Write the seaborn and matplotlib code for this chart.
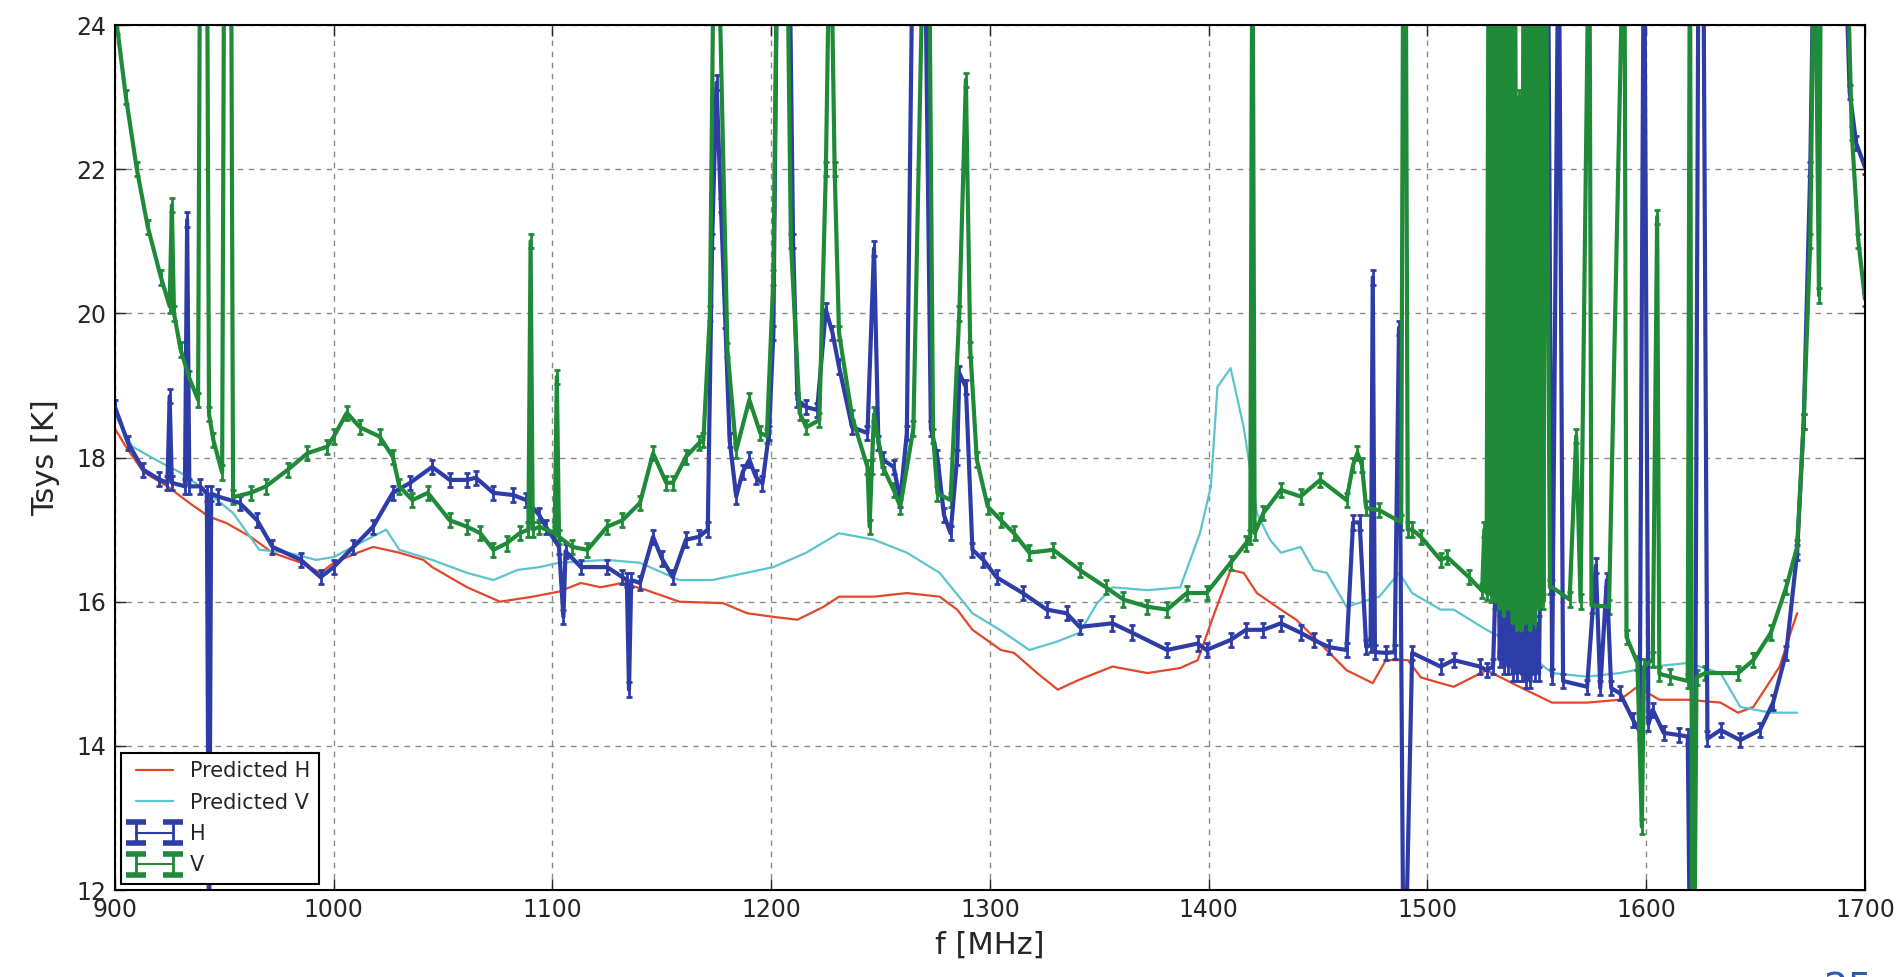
import matplotlib
matplotlib.use("Agg")
import matplotlib.pyplot as plt
import seaborn as sns
import numpy as np
import pandas as pd

# ---------------- data ----------------
PRED_H_F = [900, 905, 913, 924, 934, 943, 951, 962, 972, 985, 994, 1000, 1011, 1018, 1030,
            1041, 1045, 1061, 1076, 1091, 1103, 1113, 1122, 1132, 1143, 1158, 1178, 1189,
            1201, 1212, 1224, 1231, 1247, 1262, 1277, 1285, 1292, 1305, 1311, 1322, 1331,
            1341, 1356, 1372, 1387, 1395, 1402, 1410, 1416, 1422, 1433, 1440, 1448, 1463,
            1475, 1481, 1491, 1497, 1506, 1512, 1527, 1542, 1557, 1573, 1588, 1596, 1606,
            1619, 1634, 1642, 1649, 1655, 1661, 1666, 1669]
PRED_H_T = [18.4, 18.15, 17.8, 17.6, 17.37, 17.18, 17.09, 16.9, 16.68, 16.54, 16.4, 16.54,
            16.68, 16.76, 16.68, 16.58, 16.48, 16.2, 16.0, 16.07, 16.14, 16.26, 16.2, 16.26,
            16.16, 16.0, 15.98, 15.84, 15.79, 15.75, 15.93, 16.07, 16.07, 16.12, 16.07, 15.89,
            15.61, 15.33, 15.29, 15.0, 14.78, 14.92, 15.1, 15.01, 15.08, 15.19, 15.79, 16.44,
            16.4, 16.12, 15.89, 15.75, 15.51, 15.05, 14.87, 15.19, 15.19, 14.95, 14.87, 14.82,
            15.05, 14.82, 14.6, 14.6, 14.64, 14.82, 14.64, 14.64, 14.6, 14.46, 14.54, 14.82,
            15.1, 15.57, 15.84]

PRED_V_F = [900, 908, 921, 930, 939, 954, 966, 979, 992, 1000, 1015, 1024, 1030, 1045, 1061,
            1073, 1084, 1094, 1103, 1125, 1140, 1158, 1173, 1201, 1216, 1231, 1247, 1262,
            1277, 1292, 1305, 1318, 1331, 1341, 1349, 1356, 1372, 1387, 1396, 1401, 1404,
            1410, 1416, 1422, 1428, 1433, 1442, 1448, 1454, 1463, 1478, 1487, 1493, 1506,
            1512, 1527, 1542, 1557, 1573, 1588, 1603, 1619, 1634, 1643, 1657, 1669]
PRED_V_T = [18.6, 18.15, 17.93, 17.79, 17.6, 17.23, 16.72, 16.68, 16.58, 16.62, 16.86, 17.0,
            16.72, 16.58, 16.4, 16.3, 16.44, 16.48, 16.54, 16.58, 16.54, 16.3, 16.3, 16.48,
            16.68, 16.95, 16.86, 16.68, 16.4, 15.84, 15.6, 15.33, 15.45, 15.57, 15.98, 16.2,
            16.16, 16.2, 16.95, 17.6, 18.98, 19.24, 18.42, 17.23, 16.86, 16.68, 16.76, 16.44,
            16.4, 15.93, 16.07, 16.4, 16.12, 15.89, 15.89, 15.61, 15.37, 15.01, 14.96, 15.01,
            15.1, 15.15, 15.01, 14.54, 14.46, 14.46]

# measured H polarisation (values above 24 / below 12 run off the axes)
H_F = ([900, 906, 913, 920, 924, 925, 926, 932, 933, 934, 939, 942, 943, 944, 947, 957, 965,
        972, 985, 994, 1000, 1009, 1018, 1027, 1035, 1045, 1053, 1061, 1065, 1073, 1082, 1088,
        1094, 1097, 1103, 1105, 1106, 1113, 1125, 1132, 1134, 1135, 1136, 1140, 1146, 1150,
        1155, 1161, 1167, 1171, 1173, 1175, 1177, 1179, 1181, 1184, 1187, 1190, 1193, 1196,
        1199, 1201, 1203, 1208, 1210, 1212, 1216, 1221, 1225, 1228, 1231, 1237, 1244, 1247,
        1249, 1251, 1256, 1259, 1262, 1265, 1270, 1273, 1276, 1279, 1282, 1285, 1286, 1289,
        1292, 1297, 1303, 1315, 1326, 1335, 1341, 1356, 1365, 1381, 1395, 1399, 1410, 1417,
        1425, 1433, 1442, 1448, 1455, 1463, 1466, 1469, 1472, 1474, 1475, 1476, 1481, 1485,
        1487, 1489, 1490, 1493, 1506, 1512, 1524, 1527]
       + [1530, 1531, 1532, 1533, 1534, 1535, 1536, 1537, 1538, 1539, 1540, 1541, 1542, 1543,
          1544, 1545, 1546, 1547, 1548, 1549, 1550, 1551]
       + [1555, 1557, 1560, 1562, 1573, 1577, 1579, 1582, 1584, 1588, 1594, 1597, 1599, 1601,
          1603, 1608, 1615, 1619, 1620, 1622, 1624, 1626, 1628, 1634, 1643, 1652, 1658, 1664,
          1669, 1672, 1675, 1677, 1690, 1693, 1696, 1700])
H_T = ([18.7, 18.2, 17.83, 17.7, 17.65, 18.85, 17.65, 17.6, 21.3, 17.6, 17.6, 17.5, 11.0,
        17.5, 17.46, 17.37, 17.13, 16.76, 16.58, 16.34, 16.48, 16.76, 17.04, 17.51, 17.65,
        17.87, 17.69, 17.69, 17.72, 17.51, 17.48, 17.41, 17.2, 17.04, 16.76, 15.79, 16.7,
        16.48, 16.48, 16.34, 16.3, 14.78, 16.3, 16.26, 16.9, 16.6, 16.34, 16.86, 16.9, 17.0,
        21.0, 23.2, 21.5, 19.9, 18.24, 17.46, 17.8, 17.97, 17.73, 17.64, 18.34, 19.73, 26.0,
        26.0, 21.0, 18.8, 18.7, 18.66, 20.05, 19.73, 19.26, 18.42, 18.34, 20.9, 18.2, 17.97,
        17.87, 17.41, 18.34, 26.0, 26.0, 18.4, 18.0, 17.2, 16.95, 18.0, 19.17, 18.98, 16.72,
        16.58, 16.34, 16.12, 15.89, 15.84, 15.65, 15.7, 15.57, 15.33, 15.42, 15.33, 15.47,
        15.61, 15.61, 15.7, 15.57, 15.47, 15.37, 15.33, 17.1, 17.1, 15.37, 15.4, 20.5, 15.3,
        15.29, 15.3, 19.8, 11.0, 11.0, 15.29, 15.1, 15.19, 15.1, 15.05]
       + [15.1, 16.1, 19.8, 15.2, 16.1, 15.1, 16.0, 15.1, 16.0, 15.0, 16.0, 15.0, 15.9, 15.0,
          15.8, 14.9, 15.8, 14.9, 15.7, 15.0, 15.6, 15.0]
       + [26.0, 14.96, 26.0, 14.9, 14.82, 16.5, 14.8, 16.3, 14.8, 14.73, 14.36, 14.2, 26.0,
          14.3, 14.5, 14.18, 14.15, 14.13, 11.0, 11.0, 26.0, 26.0, 14.1, 14.22, 14.08, 14.22,
          14.6, 15.29, 16.68, 18.5, 22.0, 26.0, 26.0, 23.07, 22.36, 22.03])

# measured V polarisation
V_F = ([900, 901, 905, 910, 915, 921, 925, 926, 927, 930, 934, 938, 939, 942, 943, 945, 949,
        950, 953, 954, 962, 969, 979, 988, 997, 1000, 1006, 1012, 1021, 1027, 1030, 1036,
        1043, 1053, 1061, 1067, 1073, 1079, 1085, 1089, 1090, 1091, 1094, 1101, 1102, 1103,
        1109, 1116, 1125, 1132, 1140, 1146, 1152, 1155, 1161, 1167, 1169, 1172, 1174, 1176,
        1180, 1184, 1190, 1195, 1198, 1201, 1203, 1207, 1209, 1213, 1216, 1222, 1225, 1227,
        1229, 1231, 1237, 1244, 1245, 1246, 1247, 1251, 1256, 1259, 1265, 1270, 1272, 1274,
        1276, 1282, 1286, 1289, 1291, 1294, 1299, 1305, 1311, 1318, 1329, 1341, 1353, 1361,
        1372, 1381, 1390, 1399, 1410, 1417, 1419, 1420, 1421, 1425, 1433, 1442, 1451, 1463,
        1466, 1468, 1470, 1472, 1478, 1488, 1489, 1490, 1491, 1493, 1497, 1506, 1509, 1519,
        1525, 1526, 1527]
       + [1528, 1529, 1530, 1531, 1532, 1533, 1534, 1535, 1536, 1537, 1538, 1539, 1540, 1541,
          1542, 1543, 1544, 1545, 1546, 1547, 1548, 1549, 1550, 1551, 1552, 1553, 1554, 1556]
       + [1557, 1565, 1568, 1570, 1574, 1575, 1583, 1590, 1591, 1596, 1598, 1599, 1603, 1605,
          1606, 1611, 1619, 1620, 1621, 1622, 1623, 1627, 1642, 1649, 1657, 1664, 1669, 1672,
          1675, 1677, 1679, 1680, 1691, 1694, 1697, 1700])
V_T = ([24.3, 23.97, 23.0, 22.0, 21.2, 20.5, 20.1, 21.5, 20.0, 19.5, 19.1, 18.8, 26.0, 26.0,
        18.6, 18.24, 17.79, 26.0, 26.0, 17.45, 17.51, 17.6, 17.83, 18.06, 18.15, 18.29, 18.62,
        18.42, 18.29, 18.01, 17.6, 17.41, 17.51, 17.13, 17.04, 16.95, 16.72, 16.81, 16.95,
        17.0, 21.0, 17.0, 17.04, 16.95, 19.12, 16.9, 16.76, 16.72, 17.04, 17.13, 17.37, 18.06,
        17.65, 17.65, 18.01, 18.2, 18.24, 20.0, 26.0, 25.0, 19.49, 18.1, 18.8, 18.34, 18.3,
        20.5, 26.0, 26.0, 21.0, 18.62, 18.42, 18.52, 22.0, 26.0, 22.0, 19.73, 18.56, 17.87,
        17.04, 17.87, 18.6, 17.87, 17.55, 17.32, 18.4, 26.0, 26.0, 18.3, 17.5, 17.41, 20.0,
        23.24, 19.5, 17.97, 17.32, 17.13, 16.95, 16.68, 16.72, 16.44, 16.2, 16.03, 15.93,
        15.89, 16.12, 16.12, 16.54, 16.81, 16.9, 26.0, 16.95, 17.23, 17.55, 17.46, 17.69,
        17.41, 17.9, 18.06, 17.9, 17.3, 17.27, 17.1, 26.0, 26.0, 17.0, 17.0, 16.9, 16.58,
        16.62, 16.34, 16.15, 17.0, 16.12]
       + [26.0, 16.1, 26.0, 16.0, 26.0, 15.9, 26.0, 15.8, 26.0, 15.9, 26.0, 15.7, 26.0, 15.6,
          23.0, 15.6, 26.0, 15.7, 26.0, 15.6, 26.0, 15.7, 26.0, 15.9, 26.0, 16.0, 26.0, 16.2]
       + [16.2, 16.03, 18.3, 16.0, 26.0, 15.95, 15.93, 26.0, 15.51, 15.15, 12.88, 15.1, 15.2,
          21.34, 15.0, 14.96, 14.9, 26.0, 11.0, 11.0, 14.95, 15.01, 15.01, 15.19, 15.57, 16.2,
          16.76, 18.5, 21.0, 26.0, 20.25, 26.0, 26.0, 22.5, 21.0, 20.2])

H_ERR = 0.1
V_ERR = 0.1

X_TICKS = [900, 1000, 1100, 1200, 1300, 1400, 1500, 1600, 1700]
Y_TICKS = [12, 14, 16, 18, 20, 22, 24]

RED, CYAN, BLUE, GREEN = "#e2472a", "#5cc4cc", "#2d3ca6", "#1f8a38"

# ---------------- figure ----------------
sns.set_style("ticks")
plt.rcParams["font.family"] = ["DejaVu Sans"]

fig = plt.figure(figsize=(18.97, 9.77), dpi=100)
ax = fig.add_axes([0.0606, 0.089, 0.9225, 0.8854])

pred = pd.concat([
    pd.DataFrame({"f": PRED_H_F, "T": PRED_H_T, "curve": "Predicted H"}),
    pd.DataFrame({"f": PRED_V_F, "T": PRED_V_T, "curve": "Predicted V"}),
])
sns.lineplot(data=pred, x="f", y="T", hue="curve", palette=[RED, CYAN],
             estimator=None, sort=False, lw=1.6, ax=ax, legend=False)

eb_kw = dict(lw=3.0, elinewidth=2.0, capsize=2.5, capthick=2.0)
ax.errorbar(H_F, H_T, yerr=H_ERR, color=BLUE, **eb_kw)
ax.errorbar(V_F, V_T, yerr=V_ERR, color=GREEN, **eb_kw)

# legend proxies (larger caps so the error-bar glyph reads clearly)
h_pred, = ax.plot([], [], color=RED, lw=1.6, label="Predicted H")
v_pred, = ax.plot([], [], color=CYAN, lw=1.6, label="Predicted V")
leg_kw = dict(lw=1.5, elinewidth=2.0, capsize=7, capthick=4)
h_meas = ax.errorbar([np.nan], [np.nan], yerr=1, color=BLUE, label="H", **leg_kw)
v_meas = ax.errorbar([np.nan], [np.nan], yerr=1, color=GREEN, label="V", **leg_kw)

ax.set_xlim(900, 1700)
ax.set_ylim(12, 24)
ax.set_xticks(X_TICKS)
ax.set_yticks(Y_TICKS)
ax.tick_params(direction="in", top=True, right=True, length=8, width=1,
               labelsize=17, pad=6)
ax.grid(True, color="#8a8a8a", linestyle=(0, (4, 4)), lw=1)
for s in ax.spines.values():
    s.set_color("black")
    s.set_linewidth(1.5)

ax.set_xlabel("f [MHz]", fontsize=22, labelpad=6)
ax.set_ylabel("Tsys [K]", fontsize=22, labelpad=12)

leg = ax.legend(handles=[h_pred, v_pred, h_meas, v_meas], loc="lower left",
                fontsize=15, numpoints=2, fancybox=False, framealpha=1,
                edgecolor="black", borderaxespad=0.3, handlelength=2.4,
                handletextpad=0.5, labelspacing=0.55, borderpad=0.4)
leg.get_frame().set_linewidth(1.5)

fig.text(0.974, 0.006, "25", ha="center", va="top", fontsize=28, color="#2a5caa")

fig.savefig("out.png", dpi=100)
